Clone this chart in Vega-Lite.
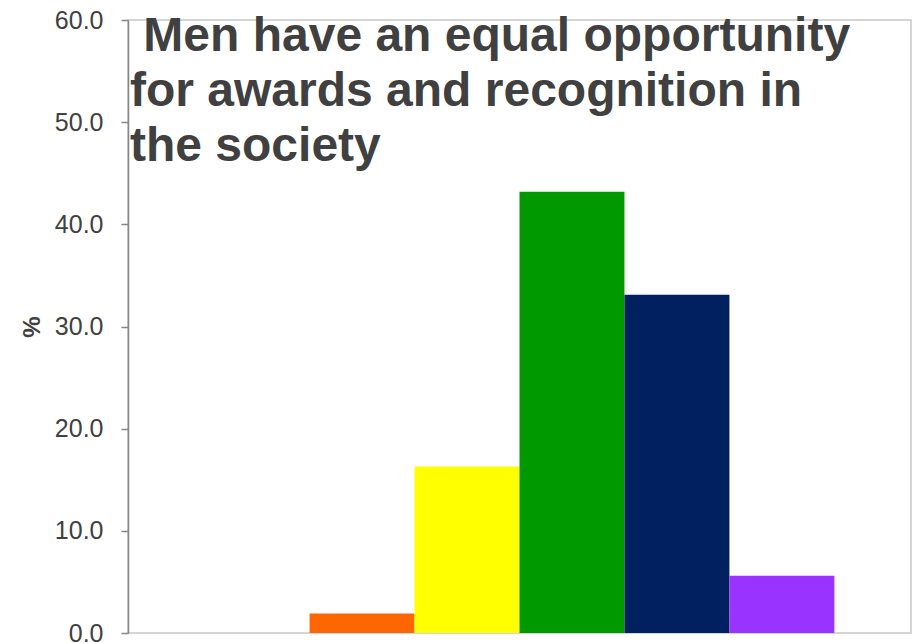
{
  "$schema": "https://vega.github.io/schema/vega-lite/v6.json",
  "width": 783,
  "height": 613,
  "autosize": "none",
  "padding": {"left": 128, "top": 20, "right": 5, "bottom": 10},
  "background": "white",
  "title": {
    "text": ["\u200b\u00a0Men have an equal opportunity", "for awards and recognition in", "the society"],
    "orient": "top",
    "anchor": "start",
    "frame": "group",
    "baseline": "alphabetic",
    "offset": 0,
    "dy": 201,
    "dx": 2,
    "font": "Liberation Sans",
    "fontSize": 48,
    "fontWeight": "bold",
    "color": "#404040",
    "lineHeight": 55
  },
  "config": {
    "view": {"stroke": "#c8c8c8", "strokeWidth": 1.5},
    "font": "Liberation Sans"
  },
  "data": {
    "values": [
      {"response": "No answer", "pct": 0.0},
      {"response": "Strongly disagree", "pct": 1.9},
      {"response": "Disagree", "pct": 16.3},
      {"response": "Neutral", "pct": 43.2},
      {"response": "Agree", "pct": 33.1},
      {"response": "Strongly agree", "pct": 5.6}
    ]
  },
  "mark": {"type": "bar"},
  "encoding": {
    "x": {
      "field": "response",
      "type": "nominal",
      "sort": null,
      "scale": {"paddingInner": 0, "paddingOuter": 0.73},
      "axis": null
    },
    "y": {
      "field": "pct",
      "type": "quantitative",
      "scale": {"domain": [0, 60], "nice": false},
      "axis": {
        "title": "%",
        "titleFont": "Liberation Sans",
        "titleFontSize": 24,
        "titleFontWeight": "bold",
        "titleColor": "#404040",
        "titlePadding": 10,
        "values": [0, 10, 20, 30, 40, 50, 60],
        "format": ".1f",
        "labelFont": "Liberation Sans",
        "labelFontSize": 25,
        "labelColor": "#404040",
        "labelPadding": 18,
        "grid": false,
        "domainColor": "#868686",
        "domainWidth": 1.5,
        "tickColor": "#868686",
        "tickWidth": 1.5,
        "tickSize": 7
      }
    },
    "color": {
      "field": "response",
      "type": "nominal",
      "sort": null,
      "scale": {
        "domain": ["No answer", "Strongly disagree", "Disagree", "Neutral", "Agree", "Strongly agree"],
        "range": ["#FF0000", "#FF6600", "#FFFF00", "#009900", "#002060", "#9933FF"]
      },
      "legend": null
    }
  }
}
